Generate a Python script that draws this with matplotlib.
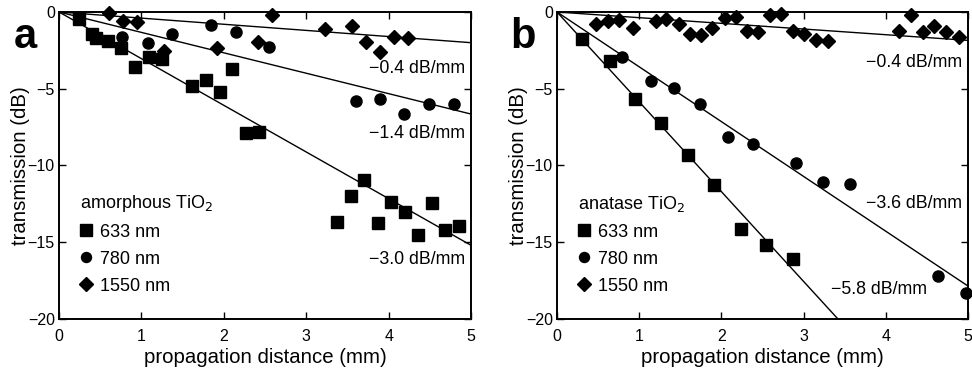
import numpy as np
import matplotlib
matplotlib.use("Agg")
import matplotlib.pyplot as plt

plt.rcParams['font.family'] = ['Liberation Sans', 'DejaVu Sans']

# panel a: amorphous TiO2
a_sq_x = [0.24, 0.40, 0.45, 0.59, 0.75, 0.92, 1.09, 1.25, 1.62, 1.78, 1.95, 2.10, 2.27, 2.43,
          3.37, 3.54, 3.70, 3.87, 4.03, 4.20, 4.36, 4.53, 4.68, 4.86]
a_sq_y = [-0.48, -1.45, -1.7, -1.89, -2.32, -3.56, -2.95, -3.09, -4.8, -4.43, -5.21, -3.69, -7.9, -7.8,
          -13.7, -11.99, -10.94, -13.77, -12.38, -13.05, -14.5, -12.44, -14.2, -13.92]
a_ci_x = [0.77, 1.08, 1.37, 1.85, 2.15, 2.55, 3.60, 3.90, 4.19, 4.49, 4.79]
a_ci_y = [-1.65, -2.04, -1.45, -0.85, -1.28, -2.26, -5.78, -5.65, -6.64, -5.97, -6.01]
a_di_x = [0.61, 0.78, 0.95, 1.28, 1.92, 2.41, 2.59, 3.23, 3.56, 3.73, 3.90, 4.07, 4.23]
a_di_y = [-0.09, -0.56, -0.63, -2.52, -2.32, -1.98, -0.17, -1.13, -0.89, -1.93, -2.58, -1.61, -1.72]
a_slopes = [-3.04, -1.33, -0.4]   # fitted lines (633, 780, 1550)
a_labels = ['\u22123.0 dB/mm', '\u22121.4 dB/mm', '\u22120.4 dB/mm']
a_label_pos = [(4.93, -16.15), (4.93, -7.9), (4.93, -3.65)]

# panel b: anatase TiO2
b_sq_x = [0.30, 0.65, 0.95, 1.27, 1.60, 1.91, 2.24, 2.54, 2.87]
b_sq_y = [-1.76, -3.19, -5.69, -7.21, -9.32, -11.25, -14.16, -15.2, -16.07]
b_ci_x = [0.79, 1.14, 1.43, 1.74, 2.08, 2.39, 2.91, 3.24, 3.57, 4.64, 4.98]
b_ci_y = [-2.95, -4.5, -4.93, -6.01, -8.16, -8.6, -9.86, -11.05, -11.23, -17.2, -18.33]
b_di_x = [0.47, 0.62, 0.76, 0.92, 1.20, 1.33, 1.48, 1.62, 1.75, 1.89, 2.04, 2.18, 2.31, 2.45,
          2.59, 2.73, 2.87, 3.01, 3.15, 3.30, 4.16, 4.31, 4.45, 4.59, 4.73, 4.89]
b_di_y = [-0.8, -0.59, -0.52, -1.06, -0.59, -0.48, -0.8, -1.43, -1.5, -1.06, -0.41, -0.35, -1.24, -1.32,
          -0.2, -0.15, -1.24, -1.43, -1.82, -1.87, -1.22, -0.2, -1.28, -0.91, -1.28, -1.65]
b_slopes = [-5.85, -3.57, -0.37]
b_labels = ['\u22125.8 dB/mm', '\u22123.6 dB/mm', '\u22120.4 dB/mm']
b_label_pos = [(4.50, -18.07), (4.93, -12.46), (4.93, -3.3)]

series_names = ['633 nm', '780 nm', '1550 nm']
xticks = [0, 1, 2, 3, 4, 5]
yticks = [0, -5, -10, -15, -20]

fig = plt.figure(figsize=(9.72, 3.71), dpi=100)
ax_a = fig.add_axes([0.0607, 0.1402, 0.4239, 0.8275])
ax_b = fig.add_axes([0.5730, 0.1402, 0.4228, 0.8275])


def draw_panel(ax, sq, ci, di, slopes, labels, label_pos, title, letter):
    ax.plot(sq[0], sq[1], 's', color='black', ms=9, label=series_names[0], clip_on=False, zorder=3)
    ax.plot(ci[0], ci[1], 'o', color='black', ms=8, label=series_names[1], clip_on=False, zorder=3)
    ax.plot(di[0], di[1], 'D', color='black', ms=7.5, label=series_names[2], clip_on=False, zorder=3)
    xx = np.array([0, 5])
    for s in slopes:
        ax.plot(xx, s * xx, '-', color='black', lw=1.0)
    for txt, (tx, ty) in zip(labels, label_pos):
        ax.text(tx, ty, txt, ha='right', va='center', fontsize=12.8)
    ax.set_xlim(0, 5)
    ax.set_ylim(-20, 0)
    ax.set_xticks(xticks)
    ax.set_yticks(yticks)
    ax.tick_params(direction='in', top=True, right=True, length=5, width=1, labelsize=11.5)
    ax.tick_params(axis='x', pad=7)
    ax.tick_params(axis='y', pad=3)
    for sp in ax.spines.values():
        sp.set_linewidth(1.4)
    ax.set_xlabel('propagation distance (mm)', fontsize=14.7, labelpad=3)
    ax.set_ylabel('transmission (dB)', fontsize=14.7)
    ax.yaxis.set_label_coords(-0.07, 0.5)
    ax.legend(title=title, loc='lower left', bbox_to_anchor=(0.03, 0.05), frameon=False,
              fontsize=13, title_fontsize=13, handlelength=0.6, handletextpad=0.5,
              labelspacing=0.55, borderpad=0, alignment='left', markerscale=0.9)
    fig.text(ax.get_position().x0 - 0.035, 0.9, letter, fontsize=30, fontweight='bold',
             ha='center', va='center')


draw_panel(ax_a, (a_sq_x, a_sq_y), (a_ci_x, a_ci_y), (a_di_x, a_di_y), a_slopes, a_labels,
           a_label_pos, 'amorphous TiO$_2$', 'a')
draw_panel(ax_b, (b_sq_x, b_sq_y), (b_ci_x, b_ci_y), (b_di_x, b_di_y), b_slopes, b_labels,
           b_label_pos, 'anatase TiO$_2$', 'b')

fig.savefig('out.png', dpi=100)
